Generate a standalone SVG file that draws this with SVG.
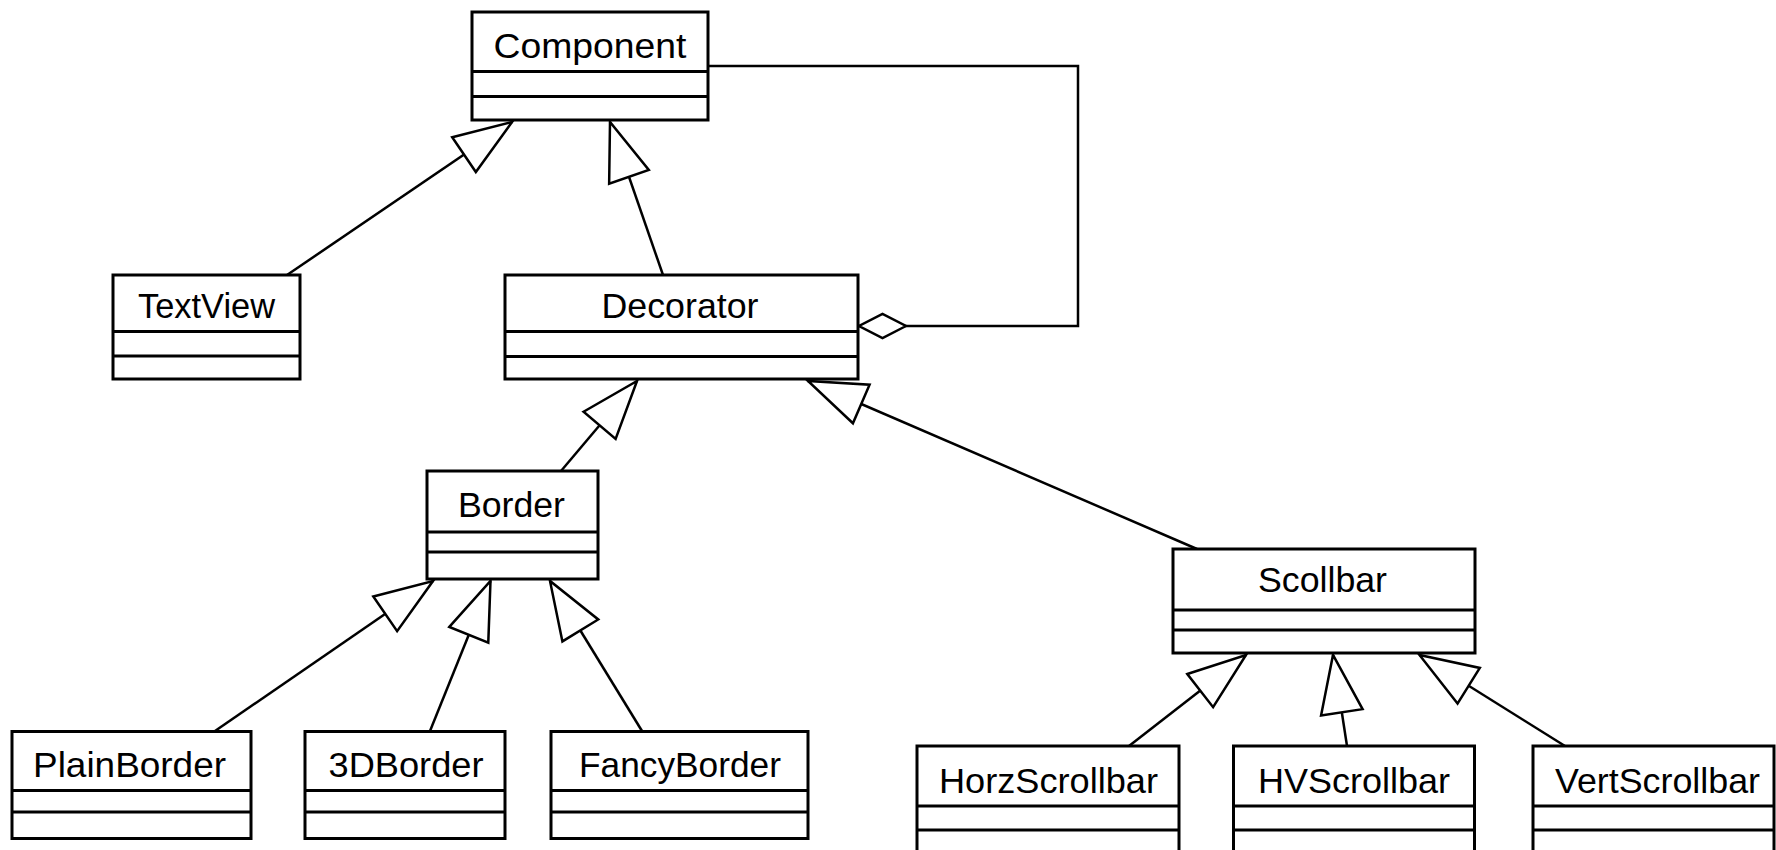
<svg xmlns="http://www.w3.org/2000/svg" width="1776" height="850" viewBox="0 0 1776 850">
<style>
.box{fill:#fff;stroke:#000;stroke-width:3}
.div{stroke:#000;stroke-width:3}
.lbl{font-family:"Liberation Sans",Arial,sans-serif;font-size:35px;fill:#000;text-anchor:middle}
.con{fill:none;stroke:#000;stroke-width:2.5}
</style>
<defs>
<marker id="gen" viewBox="0 0 58 42" refX="58" refY="21" markerWidth="58" markerHeight="42" markerUnits="userSpaceOnUse" orient="auto" overflow="visible">
<path d="M0,0 L58,21 L0,42 Z" fill="#fff" stroke="#000" stroke-width="2.5" stroke-linejoin="miter"/>
</marker>
<marker id="agg" viewBox="0 0 47 24" refX="47" refY="12" markerWidth="47" markerHeight="24" markerUnits="userSpaceOnUse" orient="auto" overflow="visible">
<path d="M0,12 L23.5,0 L47,12 L23.5,24 Z" fill="#fff" stroke="#000" stroke-width="2.5"/>
</marker>
</defs>
<rect width="1776" height="850" fill="#fff"/>

<g id="connectors">
<line class="con" x1="287" y1="275" x2="512" y2="122" marker-end="url(#gen)"/>
<line class="con" x1="663" y1="275" x2="610" y2="122" marker-end="url(#gen)"/>
<line class="con" x1="561" y1="471" x2="637" y2="381" marker-end="url(#gen)"/>
<line class="con" x1="1197" y1="549" x2="808" y2="381" marker-end="url(#gen)"/>
<line class="con" x1="215" y1="731" x2="433" y2="581" marker-end="url(#gen)"/>
<line class="con" x1="430" y1="731" x2="490.5" y2="581" marker-end="url(#gen)"/>
<line class="con" x1="642" y1="731" x2="550" y2="581" marker-end="url(#gen)"/>
<line class="con" x1="1129" y1="746" x2="1246" y2="655" marker-end="url(#gen)"/>
<line class="con" x1="1347" y1="746" x2="1333" y2="655" marker-end="url(#gen)"/>
<line class="con" x1="1565" y1="746" x2="1419.5" y2="655" marker-end="url(#gen)"/>
<polyline class="con" points="708,66 1078,66 1078,326 859,326" marker-end="url(#agg)"/>
</g>

<g id="Component">
<rect class="box" x="472" y="12" width="236" height="108"/>
<line class="div" x1="472" y1="71.5" x2="708" y2="71.5"/>
<line class="div" x1="472" y1="96.5" x2="708" y2="96.5"/>
<text class="lbl" x="590" y="58" textLength="193" lengthAdjust="spacingAndGlyphs">Component</text>
</g>

<g id="TextView">
<rect class="box" x="113" y="275" width="187" height="104"/>
<line class="div" x1="113" y1="331.5" x2="300" y2="331.5"/>
<line class="div" x1="113" y1="356" x2="300" y2="356"/>
<text class="lbl" x="206.5" y="318" textLength="137" lengthAdjust="spacingAndGlyphs">TextView</text>
</g>

<g id="Decorator">
<rect class="box" x="505" y="275" width="353" height="104"/>
<line class="div" x1="505" y1="331.5" x2="858" y2="331.5"/>
<line class="div" x1="505" y1="356.5" x2="858" y2="356.5"/>
<text class="lbl" x="680" y="318" textLength="157" lengthAdjust="spacingAndGlyphs">Decorator</text>
</g>

<g id="Border">
<rect class="box" x="427" y="471" width="171" height="108"/>
<line class="div" x1="427" y1="532" x2="598" y2="532"/>
<line class="div" x1="427" y1="552" x2="598" y2="552"/>
<text class="lbl" x="511.5" y="517" textLength="107" lengthAdjust="spacingAndGlyphs">Border</text>
</g>

<g id="Scollbar">
<rect class="box" x="1173" y="549" width="302" height="104"/>
<line class="div" x1="1173" y1="610" x2="1475" y2="610"/>
<line class="div" x1="1173" y1="630" x2="1475" y2="630"/>
<text class="lbl" x="1322.5" y="592" textLength="129" lengthAdjust="spacingAndGlyphs">Scollbar</text>
</g>

<g id="PlainBorder">
<rect class="box" x="12" y="731.5" width="239" height="107"/>
<line class="div" x1="12" y1="790.5" x2="251" y2="790.5"/>
<line class="div" x1="12" y1="812" x2="251" y2="812"/>
<text class="lbl" x="129.5" y="777" textLength="193" lengthAdjust="spacingAndGlyphs">PlainBorder</text>
</g>

<g id="ThreeDBorder">
<rect class="box" x="305" y="731.5" width="200" height="107"/>
<line class="div" x1="305" y1="790.5" x2="505" y2="790.5"/>
<line class="div" x1="305" y1="812" x2="505" y2="812"/>
<text class="lbl" x="406" y="777" textLength="155" lengthAdjust="spacingAndGlyphs">3DBorder</text>
</g>

<g id="FancyBorder">
<rect class="box" x="551" y="731.5" width="257" height="107"/>
<line class="div" x1="551" y1="790.5" x2="808" y2="790.5"/>
<line class="div" x1="551" y1="812" x2="808" y2="812"/>
<text class="lbl" x="680" y="777" textLength="202" lengthAdjust="spacingAndGlyphs">FancyBorder</text>
</g>

<g id="HorzScrollbar">
<rect class="box" x="917" y="746" width="262" height="108"/>
<line class="div" x1="917" y1="806" x2="1179" y2="806"/>
<line class="div" x1="917" y1="830" x2="1179" y2="830"/>
<text class="lbl" x="1048.5" y="793" textLength="219" lengthAdjust="spacingAndGlyphs">HorzScrollbar</text>
</g>

<g id="HVScrollbar">
<rect class="box" x="1233.5" y="746" width="241" height="108"/>
<line class="div" x1="1233.5" y1="806" x2="1474.5" y2="806"/>
<line class="div" x1="1233.5" y1="830" x2="1474.5" y2="830"/>
<text class="lbl" x="1354" y="793" textLength="192" lengthAdjust="spacingAndGlyphs">HVScrollbar</text>
</g>

<g id="VertScrollbar">
<rect class="box" x="1533" y="746" width="241" height="108"/>
<line class="div" x1="1533" y1="806" x2="1774" y2="806"/>
<line class="div" x1="1533" y1="830" x2="1774" y2="830"/>
<text class="lbl" x="1657.5" y="793" textLength="205" lengthAdjust="spacingAndGlyphs">VertScrollbar</text>
</g>
</svg>
